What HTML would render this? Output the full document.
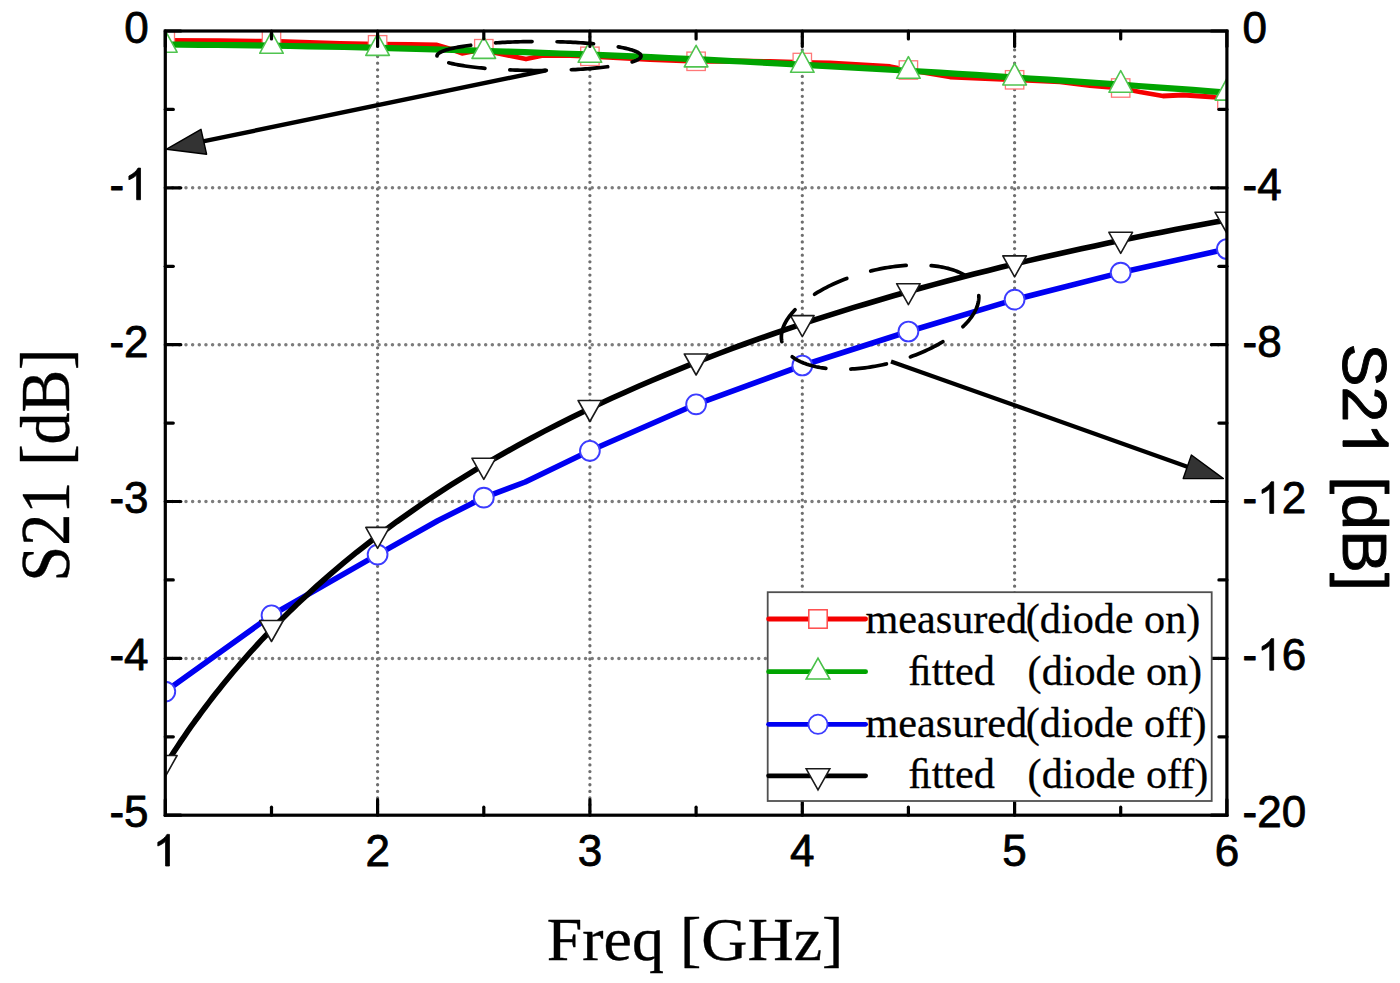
<!DOCTYPE html>
<html><head><meta charset="utf-8"><title>S21 vs Freq</title>
<style>
html,body{margin:0;padding:0;background:#fff;}
body{width:1400px;height:983px;overflow:hidden;font-family:"Liberation Sans",sans-serif;}
svg{display:block;}
</style></head><body>
<svg width="1400" height="983" viewBox="0 0 1400 983"><g stroke="#6e6e6e" stroke-width="3.3" stroke-dasharray="0.01 6.61" stroke-linecap="round" fill="none"><line x1="377.6" y1="36.71" x2="377.6" y2="812.2"/><line x1="589.9" y1="36.71" x2="589.9" y2="812.2"/><line x1="802.3" y1="36.71" x2="802.3" y2="812.2"/><line x1="1014.6" y1="36.71" x2="1014.6" y2="812.2"/></g><g stroke="#7c7c7c" stroke-width="3.5" stroke-dasharray="0.01 6.65" stroke-linecap="round" fill="none"><line x1="172.65" y1="187.8" x2="1223.9" y2="187.8"/><line x1="172.65" y1="344.7" x2="1223.9" y2="344.7"/><line x1="172.65" y1="501.5" x2="1223.9" y2="501.5"/><line x1="172.65" y1="658.4" x2="1223.9" y2="658.4"/></g><clipPath id="pc"><rect x="165.3" y="31" width="1061.6" height="784.2"/></clipPath><g clip-path="url(#pc)"><path d="M163,40.4 L220,40.7 L272,41.2 L340,43.3 L378,44.2 L410,44.5 L437,45 L449,48.5 L462,53.3 L475,51 L484,48.7 L496,53 L526,59 L543,55.5 L570,55.6 L590,56.3 L650,59.5 L696,61.3 L740,61 L770,61.5 L802,62.5 L830,63 L890,66.5 L908,70 L950,77 L1014,79.8 L1060,81.8 L1090,85.5 L1120,88 L1140,92 L1163,96 L1183,95 L1213,97 L1229,100" stroke="#f50000" stroke-width="4.8" fill="none" stroke-linejoin="round"/><g fill="#fff" stroke="#ff7878" stroke-width="1.3"><rect x="156.1" y="30.8" width="18.4" height="18.4"/><rect x="262.3" y="31" width="18.4" height="18.4"/><rect x="368.4" y="35.6" width="18.4" height="18.4"/><rect x="474.6" y="39.5" width="18.4" height="18.4"/><rect x="580.7" y="47.1" width="18.4" height="18.4"/><rect x="686.9" y="52.1" width="18.4" height="18.4"/><rect x="793.1" y="53.3" width="18.4" height="18.4"/><rect x="899.2" y="60.8" width="18.4" height="18.4"/><rect x="1005.4" y="70.6" width="18.4" height="18.4"/><rect x="1111.5" y="78.8" width="18.4" height="18.4"/><rect x="1217.7" y="90.8" width="18.4" height="18.4"/></g><path d="M163.3,44.5 L181.4,44.7 L199.4,44.8 L217.5,45 L235.5,45.2 L253.6,45.4 L271.7,45.7 L289.7,46 L307.8,46.3 L325.8,46.7 L343.9,47 L362,47.4 L380,47.9 L398.1,48.3 L416.2,48.8 L434.2,49.3 L452.3,49.8 L470.3,50.4 L488.4,51 L506.5,51.6 L524.5,52.2 L542.6,52.8 L560.6,53.5 L578.7,54.2 L596.8,54.9 L614.8,55.7 L632.9,56.4 L650.9,57.2 L669,58 L687.1,58.9 L705.1,59.7 L723.2,60.6 L741.3,61.5 L759.3,62.4 L777.4,63.4 L795.4,64.3 L813.5,65.3 L831.6,66.3 L849.6,67.3 L867.7,68.3 L885.7,69.4 L903.8,70.5 L921.9,71.5 L939.9,72.7 L958,73.8 L976,74.9 L994.1,76.1 L1012.2,77.3 L1030.2,78.5 L1048.3,79.7 L1066.4,80.9 L1084.4,82.2 L1102.5,83.4 L1120.5,84.7 L1138.6,86 L1156.7,87.3 L1174.7,88.6 L1192.8,89.9 L1210.8,91.3 L1228.9,92.7" stroke="#00a400" stroke-width="6.2" fill="none"/><g fill="#fff" stroke="#50c450" stroke-width="1.6" stroke-linejoin="round"><path d="M165.3,30.6 L177.1,52.2 L153.5,52.2 Z"/><path d="M271.5,31.7 L283.3,53.3 L259.7,53.3 Z"/><path d="M377.6,33.8 L389.4,55.4 L365.8,55.4 Z"/><path d="M483.8,36.8 L495.6,58.4 L472,58.4 Z"/><path d="M589.9,40.7 L601.7,62.3 L578.1,62.3 Z"/><path d="M696.1,45.3 L707.9,66.9 L684.3,66.9 Z"/><path d="M802.3,50.7 L814.1,72.3 L790.5,72.3 Z"/><path d="M908.4,56.7 L920.2,78.3 L896.6,78.3 Z"/><path d="M1014.6,63.4 L1026.4,85 L1002.8,85 Z"/><path d="M1120.7,70.7 L1132.5,92.3 L1108.9,92.3 Z"/><path d="M1226.9,78.5 L1238.7,100.1 L1215.1,100.1 Z"/></g><path d="M165.3,691.6 L271.5,615.3 L377.6,554.6 L437.7,520.8 L483.8,497.6 L525.2,482 L589.9,450.8 L696.1,404.3 L802.3,365.5 L908.4,331.5 L1014.6,299.6 L1120.7,272.6 L1226.9,249" stroke="#0000f2" stroke-width="5.6" fill="none" stroke-linejoin="round"/><g fill="#fff" stroke="#3c3cff" stroke-width="1.9"><circle cx="165.3" cy="691.6" r="9.9"/><circle cx="271.5" cy="615.3" r="9.9"/><circle cx="377.6" cy="554.6" r="9.9"/><circle cx="483.8" cy="497.6" r="9.9"/><circle cx="589.9" cy="450.8" r="9.9"/><circle cx="696.1" cy="404.3" r="9.9"/><circle cx="802.3" cy="365.5" r="9.9"/><circle cx="908.4" cy="331.5" r="9.9"/><circle cx="1014.6" cy="299.6" r="9.9"/><circle cx="1120.7" cy="272.6" r="9.9"/><circle cx="1226.9" cy="249" r="9.9"/></g><path d="M163.3,768.6 L166.8,763 L170.3,757.5 L173.8,752 L177.3,746.7 L180.8,741.4 L184.3,736.3 L187.8,731.2 L191.3,726.2 L194.8,721.3 L198.4,716.5 L201.9,711.7 L205.4,707 L208.9,702.4 L212.4,697.8 L215.9,693.3 L219.4,688.9 L222.9,684.6 L226.4,680.3 L229.9,676 L233.4,671.8 L236.9,667.7 L240.4,663.6 L243.9,659.6 L247.4,655.6 L250.9,651.7 L254.4,647.8 L257.9,644 L261.4,640.2 L264.9,636.5 L268.5,632.8 L272,629.2 L275.5,625.6 L279,622 L282.5,618.5 L286,615 L289.5,611.6 L293,608.2 L296.5,604.8 L300,601.5 L303,598.7 L316.4,586.4 L329.8,574.6 L343.3,563.2 L356.7,552.2 L370.1,541.7 L383.5,531.5 L396.9,521.6 L410.4,512.1 L423.8,502.8 L437.2,493.9 L450.6,485.2 L464,476.8 L477.4,468.6 L490.9,460.7 L504.3,453 L517.7,445.5 L531.1,438.2 L544.5,431.1 L558,424.2 L571.4,417.5 L584.8,410.9 L598.2,404.5 L611.6,398.3 L625.1,392.2 L638.5,386.3 L651.9,380.5 L665.3,374.8 L678.7,369.3 L692.1,363.9 L705.6,358.6 L719,353.5 L732.4,348.4 L745.8,343.5 L759.2,338.7 L772.7,334 L786.1,329.4 L799.5,324.9 L812.9,320.4 L826.3,316.1 L839.8,311.9 L853.2,307.7 L866.6,303.7 L880,299.7 L893.4,295.8 L906.8,292 L920.3,288.3 L933.7,284.6 L947.1,281 L960.5,277.5 L973.9,274 L987.4,270.7 L1000.8,267.3 L1014.2,264.1 L1027.6,260.9 L1041,257.8 L1054.5,254.7 L1067.9,251.7 L1081.3,248.8 L1094.7,245.9 L1108.1,243 L1121.5,240.2 L1135,237.5 L1148.4,234.8 L1161.8,232.2 L1175.2,229.6 L1188.6,227.1 L1202.1,224.6 L1215.5,222.1 L1228.9,219.8" stroke="#000" stroke-width="5.6" fill="none" stroke-linejoin="round"/><g fill="#fff" stroke="#1a1a1a" stroke-width="1.6" stroke-linejoin="round"><path d="M153.5,755.5 L177.1,755.5 L165.3,776.5 Z"/><path d="M259.7,620.5 L283.3,620.5 L271.5,641.5 Z"/><path d="M365.8,527.4 L389.4,527.4 L377.6,548.4 Z"/><path d="M472,458.3 L495.6,458.3 L483.8,479.3 Z"/><path d="M578.1,400.5 L601.7,400.5 L589.9,421.5 Z"/><path d="M684.3,354 L707.9,354 L696.1,375 Z"/><path d="M790.5,315.6 L814.1,315.6 L802.3,336.6 Z"/><path d="M896.6,283.7 L920.2,283.7 L908.4,304.7 Z"/><path d="M1002.8,255.9 L1026.4,255.9 L1014.6,276.9 Z"/><path d="M1108.9,232.3 L1132.5,232.3 L1120.7,253.3 Z"/><path d="M1215.1,212.3 L1238.7,212.3 L1226.9,233.3 Z"/></g></g><g><path d="M437.00,56.00 L437.03,55.62 L437.14,55.24 L437.31,54.86 L437.56,54.48 L437.87,54.11 L438.26,53.73 L438.71,53.36 L439.23,52.99 L439.82,52.62 L440.48,52.25 L441.20,51.88 L441.99,51.52 L442.85,51.16 L443.77,50.80 L444.76,50.45 L445.82,50.10 L446.94,49.76 L448.12,49.42 L449.36,49.08 L450.67,48.75 L452.03,48.42 L453.46,48.10 L454.94,47.79 L456.48,47.48 L458.08,47.17 L459.73,46.87 L461.44,46.58 L463.20,46.30 L465.01,46.02 L466.88,45.75 L468.79,45.48 L470.75,45.22 L472.76,44.97 L474.81,44.73 L476.91,44.50 L479.05,44.27 L481.23,44.05 L483.45,43.84 L485.71,43.64 L488.00,43.44 L490.33,43.26 L492.69,43.08 L495.09,42.91 L497.51,42.75 L499.97,42.60 L502.45,42.46 L504.95,42.33 L507.48,42.21 L510.03,42.10 L512.60,41.99 L515.19,41.90 L517.79,41.82 L520.41,41.74 L523.04,41.68 L525.69,41.62 L528.34,41.58 L531.00,41.54 L533.66,41.52 L536.33,41.50 L539.00,41.50 L541.67,41.50 L544.34,41.52 L547.00,41.54 L549.66,41.58 L552.31,41.62 L554.96,41.68 L557.59,41.74 L560.21,41.82 L562.81,41.90 L565.40,41.99 L567.97,42.10 L570.52,42.21 L573.05,42.33 L575.55,42.46 L578.03,42.60 L580.49,42.75 L582.91,42.91 L585.31,43.08 L587.67,43.26 L590.00,43.44 L592.29,43.64 L594.55,43.84 L596.77,44.05 L598.95,44.27 L601.09,44.50 L603.19,44.73 L605.24,44.97 L607.25,45.22 L609.21,45.48 L611.12,45.75 L612.99,46.02 L614.80,46.30 L616.56,46.58 L618.27,46.87 L619.92,47.17 L621.52,47.48 L623.06,47.79 L624.54,48.10 L625.97,48.42 L627.33,48.75 L628.64,49.08 L629.88,49.42 L631.06,49.76 L632.18,50.10 L633.24,50.45 L634.23,50.80 L635.15,51.16 L636.01,51.52 L636.80,51.88 L637.52,52.25 L638.18,52.62 L638.77,52.99 L639.29,53.36 L639.74,53.73 L640.13,54.11 L640.44,54.48 L640.69,54.86 L640.86,55.24 L640.97,55.62 L641.00,56.00 L640.97,56.38 L640.86,56.76 L640.69,57.14 L640.44,57.52 L640.13,57.89 L639.74,58.27 L639.29,58.64 L638.77,59.01 L638.18,59.38 L637.52,59.75 L636.80,60.12 L636.01,60.48 L635.15,60.84 L634.23,61.20 L633.24,61.55 L632.18,61.90 L631.06,62.24 L629.88,62.58 L628.64,62.92 L627.33,63.25 L625.97,63.58 L624.54,63.90 L623.06,64.21 L621.52,64.52 L619.92,64.83 L618.27,65.13 L616.56,65.42 L614.80,65.70 L612.99,65.98 L611.12,66.25 L609.21,66.52 L607.25,66.78 L605.24,67.03 L603.19,67.27 L601.09,67.50 L598.95,67.73 L596.77,67.95 L594.55,68.16 L592.29,68.36 L590.00,68.56 L587.67,68.74 L585.31,68.92 L582.91,69.09 L580.49,69.25 L578.03,69.40 L575.55,69.54 L573.05,69.67 L570.52,69.79 L567.97,69.90 L565.40,70.01 L562.81,70.10 L560.21,70.18 L557.59,70.26 L554.96,70.32 L552.31,70.38 L549.66,70.42 L547.00,70.46 L544.34,70.48 L541.67,70.50 L539.00,70.50 L536.33,70.50 L533.66,70.48 L531.00,70.46 L528.34,70.42 L525.69,70.38 L523.04,70.32 L520.41,70.26 L517.79,70.18 L515.19,70.10 L512.60,70.01 L510.03,69.90 L507.48,69.79 L504.95,69.67 L502.45,69.54 L499.97,69.40 L497.51,69.25 L495.09,69.09 L492.69,68.92 L490.33,68.74 L488.00,68.56 L485.71,68.36 L483.45,68.16 L481.23,67.95 L479.05,67.73 L476.91,67.50 L474.81,67.27 L472.76,67.03 L470.75,66.78 L468.79,66.52 L466.88,66.25 L465.01,65.98 L463.20,65.70 L461.44,65.42 L459.73,65.13 L458.08,64.83 L456.48,64.52 L454.94,64.21 L453.46,63.90 L452.03,63.58 L450.67,63.25 L449.36,62.92 L448.12,62.58 L446.94,62.24 L445.82,61.90 L444.76,61.55 L443.77,61.20 L442.85,60.84 L441.99,60.48 L441.20,60.12 L440.48,59.75 L439.82,59.38 L439.23,59.01 L438.71,58.64 L438.26,58.27 L437.87,57.89 L437.56,57.52 L437.31,57.14 L437.14,56.76 L437.03,56.38 L437.00,56.00" fill="none" stroke="#000" stroke-width="3.7" stroke-dasharray="36.5 25" stroke-linecap="round"/><line x1="546" y1="70.3" x2="203" y2="141.4" stroke="#000" stroke-width="4.4"/><path d="M166.6,149.2 L201,129.3 L206.6,154.2 Z" fill="#333" stroke="#000" stroke-width="1.4" stroke-linejoin="round"/><path d="M792.19,356.77 L793.40,357.64 L794.67,358.49 L795.99,359.30 L797.37,360.09 L798.81,360.85 L800.31,361.58 L801.86,362.28 L803.46,362.94 L805.12,363.58 L806.83,364.18 L808.58,364.75 L810.39,365.29 L812.24,365.80 L814.15,366.27 L816.09,366.71 L818.08,367.11 L820.11,367.49 L822.19,367.82 L824.30,368.12 L826.45,368.39 L828.64,368.62 L830.86,368.81 L833.12,368.98 L835.41,369.10 L837.73,369.19 L840.08,369.24 L842.46,369.26 L844.86,369.24 L847.29,369.19 L849.74,369.10 L852.21,368.97 L854.70,368.81 L857.20,368.62 L859.72,368.38 L862.26,368.12 L864.81,367.82 L867.37,367.48 L869.93,367.11 L872.51,366.70 L875.09,366.26 L877.67,365.79 L880.26,365.29 L882.84,364.75 L885.42,364.17 L888.00,363.57 L890.58,362.93 L893.14,362.27 L895.70,361.57 L898.25,360.84 L900.78,360.08 L903.30,359.29 L905.81,358.48 L908.29,357.63 L910.76,356.76 L913.21,355.86 L915.63,354.93 L918.03,353.98 L920.41,353.00 L922.75,351.99 L925.07,350.97 L927.35,349.92 L929.61,348.85 L931.83,347.75 L934.01,346.64 L936.16,345.50 L938.27,344.35 L940.33,343.17 L942.36,341.98 L944.35,340.77 L946.29,339.55 L948.18,338.31 L950.03,337.05 L951.83,335.78 L953.58,334.50 L955.29,333.21 L956.94,331.90 L958.53,330.59 L960.08,329.27 L961.56,327.94 L963.00,326.60 L964.37,325.25 L965.69,323.90 L966.95,322.54 L968.15,321.18 L969.29,319.82 L970.37,318.46 L971.39,317.09 L972.34,315.72 L973.23,314.36 L974.06,313.00 L974.82,311.64 L975.52,310.28 L976.15,308.93 L976.72,307.59 L977.22,306.25 L977.65,304.91 L978.02,303.59 L978.32,302.28 L978.55,300.97 L978.72,299.68 L978.81,298.40 L978.84,297.13 L978.80,295.88 L978.70,294.64 L978.53,293.41 L978.28,292.20 L977.98,291.01 L977.60,289.84 L977.16,288.68 L976.65,287.55 L976.08,286.43 L975.44,285.34 L974.73,284.27 L973.96,283.22 L973.13,282.19 L972.23,281.19 L971.27,280.21 L970.24,279.26 L969.16,278.33 L968.01,277.43 L966.80,276.56 L965.53,275.71 L964.21,274.90 L962.83,274.11 L961.39,273.35 L959.89,272.62 L958.34,271.92 L956.74,271.26 L955.08,270.62 L953.37,270.02 L951.62,269.45 L949.81,268.91 L947.96,268.40 L946.05,267.93 L944.11,267.49 L942.12,267.09 L940.09,266.71 L938.01,266.38 L935.90,266.08 L933.75,265.81 L931.56,265.58 L929.34,265.39 L927.08,265.22 L924.79,265.10 L922.47,265.01 L920.12,264.96 L917.74,264.94 L915.34,264.96 L912.91,265.01 L910.46,265.10 L907.99,265.23 L905.50,265.39 L903.00,265.58 L900.48,265.82 L897.94,266.08 L895.39,266.38 L892.83,266.72 L890.27,267.09 L887.69,267.50 L885.11,267.94 L882.53,268.41 L879.94,268.91 L877.36,269.45 L874.78,270.03 L872.20,270.63 L869.62,271.27 L867.06,271.93 L864.50,272.63 L861.95,273.36 L859.42,274.12 L856.90,274.91 L854.39,275.72 L851.91,276.57 L849.44,277.44 L846.99,278.34 L844.57,279.27 L842.17,280.22 L839.79,281.20 L837.45,282.21 L835.13,283.23 L832.85,284.28 L830.59,285.35 L828.37,286.45 L826.19,287.56 L824.04,288.70 L821.93,289.85 L819.87,291.03 L817.84,292.22 L815.85,293.43 L813.91,294.65 L812.02,295.89 L810.17,297.15 L808.37,298.42 L806.62,299.70 L804.91,300.99 L803.26,302.30 L801.67,303.61 L800.12,304.93 L798.64,306.26 L797.20,307.60 L795.83,308.95 L794.51,310.30 L793.25,311.66 L792.05,313.02 L790.91,314.38 L789.83,315.74 L788.81,317.11 L787.86,318.48 L786.97,319.84 L786.14,321.20 L785.38,322.56 L784.68,323.92 L784.05,325.27 L783.48,326.61 L782.98,327.95 L782.55,329.29 L782.18,330.61 L781.88,331.92 L781.65,333.23 L781.48,334.52 L781.39,335.80 L781.36,337.07 L781.40,338.32 L781.50,339.56 L781.67,340.79 L781.92,342.00 L782.22,343.19 L782.60,344.36 L783.04,345.52 L783.55,346.65 L784.12,347.77 L784.76,348.86 L785.47,349.93 L786.24,350.98 L787.07,352.01 L787.97,353.01 L788.93,353.99 L789.96,354.94 L791.04,355.87 L792.19,356.77" fill="none" stroke="#000" stroke-width="3.7" stroke-dasharray="36 25" stroke-linecap="round"/><line x1="891" y1="361.4" x2="1188" y2="467" stroke="#000" stroke-width="4.2"/><path d="M1223.4,478.6 L1191.4,455 L1183.2,478.6 Z" fill="#333" stroke="#000" stroke-width="1.4" stroke-linejoin="round"/></g><g stroke="#000" stroke-width="3.2" fill="none"><rect x="165.3" y="31" width="1061.6" height="784.2" fill="none" stroke="#000" stroke-width="3.2"/></g><g stroke="#000" stroke-width="3.2" fill="none" stroke-linecap="round"><line x1="165.3" y1="815.2" x2="165.3" y2="799.7"/><line x1="165.3" y1="31" x2="165.3" y2="46.5"/><line x1="271.5" y1="815.2" x2="271.5" y2="807.2"/><line x1="271.5" y1="31" x2="271.5" y2="39"/><line x1="377.6" y1="815.2" x2="377.6" y2="799.7"/><line x1="377.6" y1="31" x2="377.6" y2="46.5"/><line x1="483.8" y1="815.2" x2="483.8" y2="807.2"/><line x1="483.8" y1="31" x2="483.8" y2="39"/><line x1="589.9" y1="815.2" x2="589.9" y2="799.7"/><line x1="589.9" y1="31" x2="589.9" y2="46.5"/><line x1="696.1" y1="815.2" x2="696.1" y2="807.2"/><line x1="696.1" y1="31" x2="696.1" y2="39"/><line x1="802.3" y1="815.2" x2="802.3" y2="799.7"/><line x1="802.3" y1="31" x2="802.3" y2="46.5"/><line x1="908.4" y1="815.2" x2="908.4" y2="807.2"/><line x1="908.4" y1="31" x2="908.4" y2="39"/><line x1="1014.6" y1="815.2" x2="1014.6" y2="799.7"/><line x1="1014.6" y1="31" x2="1014.6" y2="46.5"/><line x1="1120.7" y1="815.2" x2="1120.7" y2="807.2"/><line x1="1120.7" y1="31" x2="1120.7" y2="39"/><line x1="1226.9" y1="815.2" x2="1226.9" y2="799.7"/><line x1="1226.9" y1="31" x2="1226.9" y2="46.5"/><line x1="165.3" y1="31" x2="180.8" y2="31"/><line x1="1226.9" y1="31" x2="1211.4" y2="31"/><line x1="165.3" y1="109.4" x2="173.3" y2="109.4"/><line x1="1226.9" y1="109.4" x2="1218.9" y2="109.4"/><line x1="165.3" y1="187.8" x2="180.8" y2="187.8"/><line x1="1226.9" y1="187.8" x2="1211.4" y2="187.8"/><line x1="165.3" y1="266.3" x2="173.3" y2="266.3"/><line x1="1226.9" y1="266.3" x2="1218.9" y2="266.3"/><line x1="165.3" y1="344.7" x2="180.8" y2="344.7"/><line x1="1226.9" y1="344.7" x2="1211.4" y2="344.7"/><line x1="165.3" y1="423.1" x2="173.3" y2="423.1"/><line x1="1226.9" y1="423.1" x2="1218.9" y2="423.1"/><line x1="165.3" y1="501.5" x2="180.8" y2="501.5"/><line x1="1226.9" y1="501.5" x2="1211.4" y2="501.5"/><line x1="165.3" y1="579.9" x2="173.3" y2="579.9"/><line x1="1226.9" y1="579.9" x2="1218.9" y2="579.9"/><line x1="165.3" y1="658.4" x2="180.8" y2="658.4"/><line x1="1226.9" y1="658.4" x2="1211.4" y2="658.4"/><line x1="165.3" y1="736.8" x2="173.3" y2="736.8"/><line x1="1226.9" y1="736.8" x2="1218.9" y2="736.8"/><line x1="165.3" y1="815.2" x2="180.8" y2="815.2"/><line x1="1226.9" y1="815.2" x2="1211.4" y2="815.2"/></g><g font-family="Liberation Sans, sans-serif" font-size="44" fill="#000" stroke="#000" stroke-width="0.8" stroke-linejoin="round"><text x="124.13" y="42.90" xml:space="preserve">0</text><text x="1242.60" y="42.90" xml:space="preserve">0</text><text x="109.48" y="199.74">-</text><path transform="translate(124.13 199.74) scale(0.021484 -0.021484)" vector-effect="non-scaling-stroke" d="M763,0L583,0L583,1147Q518,1085 412,1023Q306,961 222,930L222,1104Q373,1175 486,1276Q599,1377 646,1472L763,1472Z"/><text x="1242.60" y="199.74" xml:space="preserve">-4</text><text x="109.48" y="356.58" xml:space="preserve">-2</text><text x="1242.60" y="356.58" xml:space="preserve">-8</text><text x="109.48" y="513.42" xml:space="preserve">-3</text><text x="1242.60" y="513.42">-</text><path transform="translate(1257.25 513.42) scale(0.021484 -0.021484)" vector-effect="non-scaling-stroke" d="M763,0L583,0L583,1147Q518,1085 412,1023Q306,961 222,930L222,1104Q373,1175 486,1276Q599,1377 646,1472L763,1472Z"/><text x="1281.72" y="513.42" xml:space="preserve">2</text><text x="109.48" y="670.26" xml:space="preserve">-4</text><text x="1242.60" y="670.26">-</text><path transform="translate(1257.25 670.26) scale(0.021484 -0.021484)" vector-effect="non-scaling-stroke" d="M763,0L583,0L583,1147Q518,1085 412,1023Q306,961 222,930L222,1104Q373,1175 486,1276Q599,1377 646,1472L763,1472Z"/><text x="1281.72" y="670.26" xml:space="preserve">6</text><text x="109.48" y="827.10" xml:space="preserve">-5</text><text x="1242.60" y="827.10" xml:space="preserve">-20</text><path transform="translate(153.06 866.00) scale(0.021484 -0.021484)" vector-effect="non-scaling-stroke" d="M763,0L583,0L583,1147Q518,1085 412,1023Q306,961 222,930L222,1104Q373,1175 486,1276Q599,1377 646,1472L763,1472Z"/><text x="365.38" y="866.00" xml:space="preserve">2</text><text x="577.70" y="866.00" xml:space="preserve">3</text><text x="790.02" y="866.00" xml:space="preserve">4</text><text x="1002.34" y="866.00" xml:space="preserve">5</text><text x="1214.66" y="866.00" xml:space="preserve">6</text></g><g font-family="Liberation Serif, serif" fill="#000" stroke="#000" stroke-width="0.4" stroke-linejoin="round"><text font-size="64" transform="translate(695 960) scale(1 0.97)" text-anchor="middle">Freq [GHz]</text><text font-size="70" transform="translate(69 465) rotate(-90) scale(0.914 1)" text-anchor="middle">S21 [dB]</text></g><g font-family="Liberation Sans, sans-serif" font-size="63" fill="#000" stroke="#000" stroke-width="0.9" stroke-linejoin="round" transform="translate(1343 467.2) rotate(90) scale(1.023 1)"><text x="-120.83" y="0.00">S2</text><path transform="translate(-43.77 0.00) scale(0.030762 -0.030762)" vector-effect="non-scaling-stroke" d="M763,0L583,0L583,1147Q518,1085 412,1023Q306,961 222,930L222,1104Q373,1175 486,1276Q599,1377 646,1472L763,1472Z"/><text x="-8.74" y="0.00" xml:space="preserve"> [dB]</text></g><g><rect x="767.7" y="592.2" width="444" height="208.8" fill="#fff" stroke="#505050" stroke-width="1.8"/><line x1="768.6" y1="619.0" x2="865.6" y2="619.0" stroke="#f50000" stroke-width="4.8" stroke-linecap="round"/><rect x="808.8" y="609.8" width="18.4" height="18.4" fill="#fff" stroke="#ff4a4a" stroke-width="1.5"/><line x1="768.6" y1="671.7" x2="865.6" y2="671.7" stroke="#00a400" stroke-width="4.8" stroke-linecap="round"/><path d="M818.0,658.2 L829.8,679 L806.2,679 Z" fill="#fff" stroke="#48c048" stroke-width="1.6"/><line x1="768.6" y1="724.3" x2="865.6" y2="724.3" stroke="#0000f2" stroke-width="4.8" stroke-linecap="round"/><circle cx="818.0" cy="724.3" r="9.6" fill="#fff" stroke="#3c3cff" stroke-width="1.8"/><line x1="768.6" y1="775.8" x2="865.6" y2="775.8" stroke="#000" stroke-width="4.8" stroke-linecap="round"/><path d="M806.2,768.8 L829.8,768.8 L818.0,789.8 Z" fill="#fff" stroke="#1a1a1a" stroke-width="1.6"/></g><g font-family="Liberation Serif, serif" font-size="42.2" fill="#000" stroke="#000" stroke-width="0.3" stroke-linejoin="round"><text x="865.5" y="633.3">measured</text><text x="1025.8" y="633.3">(diode on)</text><text x="908.2" y="684.9">&#xFB01;tted</text><text x="1027.6" y="684.9">(diode on)</text><text x="865.5" y="736.6">measured</text><text x="1025.8" y="736.6">(diode off)</text><text x="908.2" y="788.3">&#xFB01;tted</text><text x="1027.6" y="788.3">(diode off)</text></g></svg>
</body></html>
